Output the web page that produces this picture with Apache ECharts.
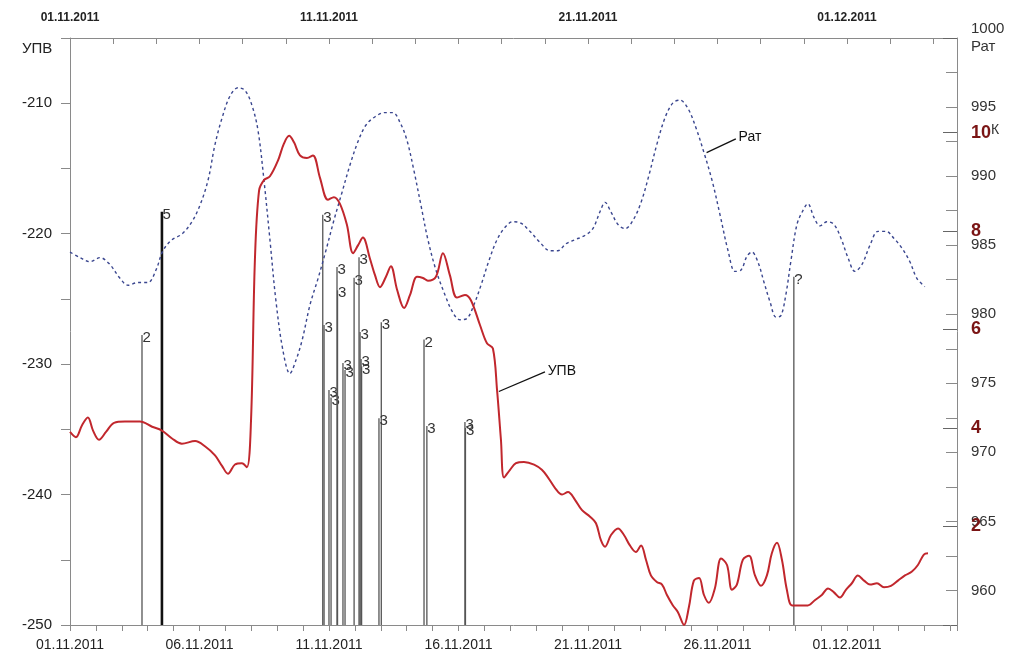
<!DOCTYPE html>
<html>
<head>
<meta charset="utf-8">
<script src="https://cdn.jsdelivr.net/npm/echarts@6/dist/echarts.min.js"></script>
<style>
  html, body { margin: 0; background: #fff; }
  #chart { width: 1018px; height: 662px; }
</style>
</head>
<body>
<div id="chart"></div>
<script>
// days are counted from 01.11.2011 00:00
var upvDays = [0.00, 0.23, 0.46, 0.69, 0.89, 1.12, 1.39, 1.70, 2.12, 2.70, 3.17, 3.55, 3.94, 4.32, 4.83, 5.21, 5.60, 5.87, 6.10, 6.37,
  6.64, 6.83, 6.99, 7.14, 7.30, 7.49, 7.72, 8.03, 8.26, 8.46, 8.65, 8.88, 9.15, 9.38, 9.65, 9.96, 10.19, 10.42, 10.69, 10.93,
  11.12, 11.31, 11.58, 11.78, 11.97, 12.20, 12.39, 12.63, 12.90, 13.13, 13.40, 13.63, 13.82, 14.13, 14.40, 14.67, 14.94, 15.25, 15.48, 15.83,
  16.10, 16.33, 16.49, 16.64, 16.76, 16.99, 17.22, 17.53, 17.92, 18.22, 18.46, 18.73, 19.00, 19.23, 19.50, 19.77, 20.08, 20.31, 20.50, 20.66,
  20.89, 21.16, 21.39, 21.62, 21.85, 22.05, 22.24, 22.43, 22.66, 22.86, 23.05, 23.28, 23.47, 23.71, 23.90, 24.09, 24.29, 24.48, 24.67, 24.90,
  25.14, 25.37, 25.56, 25.75, 25.98, 26.22, 26.45, 26.68, 26.91, 27.10, 27.30, 27.49, 27.68, 27.88, 28.19, 28.49, 28.76, 29.03, 29.27, 29.50,
  29.73, 29.96, 30.19, 30.42, 30.66, 30.89, 31.16, 31.43, 31.70, 31.97, 32.24, 32.51, 32.74, 32.97, 33.13];
var upvValues = [-235.2, -235.6, -234.7, -234.1, -235.1, -235.8, -235.2, -234.5, -234.4, -234.4, -234.8, -235.1, -235.7, -236.1, -235.9, -236.3, -237.0, -237.8, -238.4, -237.7,
  -237.6, -237.9, -234.3, -222.0, -216.7, -215.9, -215.6, -214.4, -213.1, -212.5, -213.0, -214.0, -214.2, -214.0, -215.7, -217.4, -217.2, -217.7, -219.3, -221.5,
  -220.9, -220.3, -221.9, -223.2, -224.1, -223.3, -222.5, -224.3, -225.7, -224.7, -223.3, -223.4, -223.6, -223.3, -221.5, -223.2, -224.9, -224.7, -225.1, -227.0,
  -228.4, -228.8, -232.0, -235.8, -238.7, -238.1, -237.6, -237.5, -237.7, -238.1, -238.7, -239.5, -240.0, -239.8, -240.4, -241.2, -241.7, -242.2, -243.5, -244.0,
  -243.1, -242.6, -243.1, -243.9, -244.4, -243.9, -245.0, -246.2, -246.7, -246.9, -247.7, -248.5, -249.0, -250.0, -248.6, -246.6, -246.4, -247.7, -248.3, -247.2,
  -244.9, -245.4, -247.3, -246.9, -245.0, -244.7, -246.2, -247.0, -246.2, -244.5, -243.7, -245.0, -247.3, -248.5, -248.5, -248.5, -248.1, -247.7, -247.2, -247.5,
  -247.9, -247.3, -246.8, -246.2, -246.6, -246.9, -246.8, -247.1, -247.0, -246.6, -246.2, -245.9, -245.4, -244.6, -244.5];

var ratDays = [0.00, 0.39, 0.77, 1.16, 1.54, 1.93, 2.24, 2.63, 3.01, 3.32, 3.59, 3.94, 4.32, 4.71, 5.02, 5.33, 5.60, 5.87, 6.18, 6.49,
  6.76, 7.03, 7.26, 7.49, 7.72, 7.95, 8.22, 8.49, 8.73, 8.96, 9.27, 9.58, 9.88, 10.19, 10.50, 10.81, 11.12, 11.43, 11.78, 12.16,
  12.47, 12.74, 13.01, 13.28, 13.55, 13.82, 14.13, 14.48, 14.79, 15.06, 15.33, 15.60, 15.87, 16.18, 16.49, 16.80, 17.10, 17.41, 17.76, 18.15,
  18.53, 18.84, 19.15, 19.50, 19.88, 20.19, 20.46, 20.66, 20.89, 21.16, 21.43, 21.74, 22.05, 22.36, 22.66, 22.97, 23.28, 23.55, 23.86, 24.17,
  24.48, 24.79, 25.10, 25.41, 25.68, 25.91, 26.14, 26.33, 26.56, 26.80, 27.03, 27.26, 27.45, 27.64, 27.84, 28.07, 28.30, 28.49, 28.73, 28.96,
  29.23, 29.50, 29.77, 30.04, 30.31, 30.58, 30.89, 31.20, 31.51, 31.81, 32.12, 32.43, 32.70, 33.01];
var ratValues = [984.5, 984.1, 983.8, 984.1, 983.6, 982.6, 982.1, 982.3, 982.3, 983.2, 984.6, 985.4, 985.8, 986.7, 987.9, 989.7, 992.3, 994.2, 995.8, 996.4,
  996.2, 995.1, 993.3, 989.7, 985.4, 981.0, 977.4, 975.7, 976.7, 978.1, 980.7, 982.6, 984.6, 986.8, 988.8, 990.8, 992.5, 993.7, 994.3, 994.6,
  994.6, 993.9, 992.6, 990.4, 987.9, 985.4, 983.2, 981.4, 980.1, 979.6, 979.7, 980.7, 982.1, 983.9, 985.4, 986.3, 986.7, 986.6, 986.0, 985.2,
  984.6, 984.6, 985.1, 985.4, 985.7, 986.2, 987.4, 988.1, 987.4, 986.5, 986.2, 986.8, 988.1, 990.1, 992.3, 994.2, 995.3, 995.5, 994.9, 993.5,
  991.7, 989.7, 987.2, 984.6, 983.1, 983.2, 984.2, 984.5, 983.8, 982.3, 980.9, 979.8, 979.9, 981.4, 983.9, 986.5, 987.5, 988.0, 987.0, 986.4,
  986.7, 986.5, 985.5, 984.1, 983.1, 983.6, 985.0, 986.0, 986.0, 985.5, 984.8, 983.8, 982.6, 982.0];

// events: time, energy class K (bar height) and the number written at the top
var eqDays = [2.78, 3.55, 9.76, 9.81, 10.00, 10.08, 10.31, 10.33, 10.54, 10.62, 10.97, 11.16, 11.20, 11.24, 11.26, 12.02, 11.93, 13.67, 13.78, 15.25, 15.27, 27.95];
var eqK = [5.89, 8.39, 8.33, 6.09, 4.77, 4.62, 7.27, 6.80, 5.32, 5.18, 7.05, 7.47, 5.95, 5.40, 5.25, 6.15, 4.20, 5.80, 4.04, 4.12, 4.00, 7.07];
var eqLabels = ['2', '5', '3', '3', '3', '3', '3', '3', '3', '3', '3', '3', '3', '3', '3', '3', '3', '2', '3', '3', '3', '?'];

var upvAxis = { min: -250, max: -205, step: 5 };
var ratAxis = { min: 957.5, max: 1000, step: 2.5 };
var kAxis = { min: 0, max: 11.92, step: 2 };
var dayMax = 34.25;

function pad(n) { return n < 10 ? '0' + n : '' + n; }
function dayLabel(d) {
  var dt = new Date(2011, 10, 1 + Math.round(d));
  return pad(dt.getDate()) + '.' + pad(dt.getMonth() + 1) + '.' + dt.getFullYear();
}
function near(v, step) { return Math.abs(v - Math.round(v / step) * step) < 0.01; }

var upvData = upvDays.map(function (d, i) { return [d, upvValues[i]]; });
var ratData = ratDays.map(function (d, i) { return [d, ratValues[i]]; });
var eqData = eqDays.map(function (d, i) { return [d, eqK[i]]; });

var FONT = 'Liberation Sans, Arial, sans-serif';
var AXIS = '#8a8a8a';

var myChart = echarts.init(document.getElementById('chart'));

option = {
  backgroundColor: '#fff',
  animation: false,
  textStyle: { fontFamily: FONT },
  grid: { left: 70, right: 61, top: 38, bottom: 37 },
  graphic: [
    { type: 'text', left: 22, top: 41, style: { text: 'УПВ', font: '15px ' + FONT, fill: '#222' } }
  ],
  xAxis: [
    {
      type: 'value', position: 'bottom', min: 0, max: dayMax, interval: 1,
      axisLine: { onZero: false, lineStyle: { color: AXIS } },
      axisTick: { inside: false, length: 6, lineStyle: { color: AXIS } },
      axisLabel: {
        color: '#222', fontSize: 14, margin: 13,
        formatter: function (v) { return (near(v, 5) && v < 33) ? dayLabel(v) : ''; }
      },
      splitLine: { show: false }
    },
    {
      type: 'value', position: 'top', min: 0, max: dayMax, interval: 10 / 6,
      axisLine: { onZero: false, lineStyle: { color: AXIS } },
      axisTick: { inside: true, length: 6, lineStyle: { color: AXIS } },
      axisLabel: {
        color: '#222', fontSize: 12, fontWeight: 'bold', margin: 14,
        formatter: function (v) { return (near(v, 10) && v < 33) ? dayLabel(v) : ''; }
      },
      splitLine: { show: false }
    }
  ],
  yAxis: [
    {
      type: 'value', position: 'left', min: upvAxis.min, max: upvAxis.max, interval: upvAxis.step,
      axisLine: { show: true, onZero: false, lineStyle: { color: AXIS } },
      axisTick: { inside: false, length: 9, lineStyle: { color: AXIS } },
      axisLabel: {
        color: '#222', fontSize: 15, margin: 18,
        formatter: function (v) { return (near(v, 10)) ? String(v) : ''; }
      },
      splitLine: { show: false }
    },
    {
      type: 'value', position: 'right', min: ratAxis.min, max: ratAxis.max, interval: ratAxis.step,
      axisLine: { show: true, onZero: false, lineStyle: { color: AXIS } },
      axisTick: { inside: true, length: 11, lineStyle: { color: AXIS } },
      axisLabel: {
        color: '#333', fontSize: 15, margin: 14, lineHeight: 18,
        formatter: function (v) {
          if (v === 1000) return '1000\nРат';
          return near(v, 5) ? String(v) : '';
        }
      },
      splitLine: { show: false }
    },
    {
      type: 'value', position: 'right', offset: 0, min: kAxis.min, max: kAxis.max, interval: kAxis.step,
      axisLine: { show: false, onZero: false },
      axisTick: { show: true, inside: true, length: 14, lineStyle: { color: '#666' } },
      axisLabel: {
        color: '#7a1414', fontSize: 18, fontWeight: 'bold', margin: 14,
        formatter: function (v) {
          if (!near(v, 2) || v <= 0 || v > 10.5) return '';
          if (Math.round(v) === 10) return '10{k|К}';
          return String(Math.round(v));
        },
        rich: { k: { color: '#333', fontSize: 14, fontWeight: 'normal', verticalAlign: 'top', padding: [0, 0, 4, 0] } }
      },
      splitLine: { show: false }
    }
  ],
  series: [
    {
      name: 'K',
      type: 'custom',
      xAxisIndex: 0,
      yAxisIndex: 2,
      z: 1,
      data: eqData,
      renderItem: function (params, api) {
        var x = api.value(0);
        var base = api.coord([x, 0]);
        var top = api.coord([x, api.value(1)]);
        var label = eqLabels[params.dataIndex];
        var heavy = label === '5';
        return {
          type: 'group',
          children: [
            {
              type: 'line',
              shape: { x1: base[0], y1: base[1], x2: top[0], y2: top[1] },
              style: { stroke: heavy ? '#111' : '#555', lineWidth: heavy ? 2.6 : 1.3 }
            },
            {
              type: 'text',
              x: top[0] + 0.5,
              y: top[1] + 3,
              style: { text: label, fill: '#333', font: '15px ' + FONT, align: 'left', verticalAlign: 'middle' }
            }
          ]
        };
      }
    },
    {
      name: 'Рат',
      type: 'line',
      xAxisIndex: 0,
      yAxisIndex: 1,
      z: 3,
      data: ratData,
      smooth: 0.35,
      showSymbol: false,
      lineStyle: { color: '#3a468f', width: 1.4, type: [3, 3] },
      markLine: {
        silent: true,
        symbol: ['none', 'arrow'],
        symbolSize: [0, 9],
        lineStyle: { color: '#111', width: 1.3, type: 'solid' },
        label: { show: true, position: 'start', formatter: 'Рат', color: '#111', fontSize: 14, distance: 3 },
        data: [[{ coord: [25.71, 992.7] }, { coord: [24.58, 991.7] }]]
      }
    },
    {
      name: 'УПВ',
      type: 'line',
      xAxisIndex: 0,
      yAxisIndex: 0,
      z: 4,
      data: upvData,
      smooth: 0.35,
      showSymbol: false,
      lineStyle: { color: '#c1272d', width: 2 },
      markLine: {
        silent: true,
        symbol: ['none', 'arrow'],
        symbolSize: [0, 9],
        lineStyle: { color: '#111', width: 1.3, type: 'solid' },
        label: { show: true, position: 'start', formatter: 'УПВ', color: '#111', fontSize: 14, distance: 3 },
        data: [[{ coord: [18.34, -230.6] }, { coord: [16.56, -232.1] }]]
      }
    }
  ]
};

myChart.setOption(option);
</script>
</body>
</html>
